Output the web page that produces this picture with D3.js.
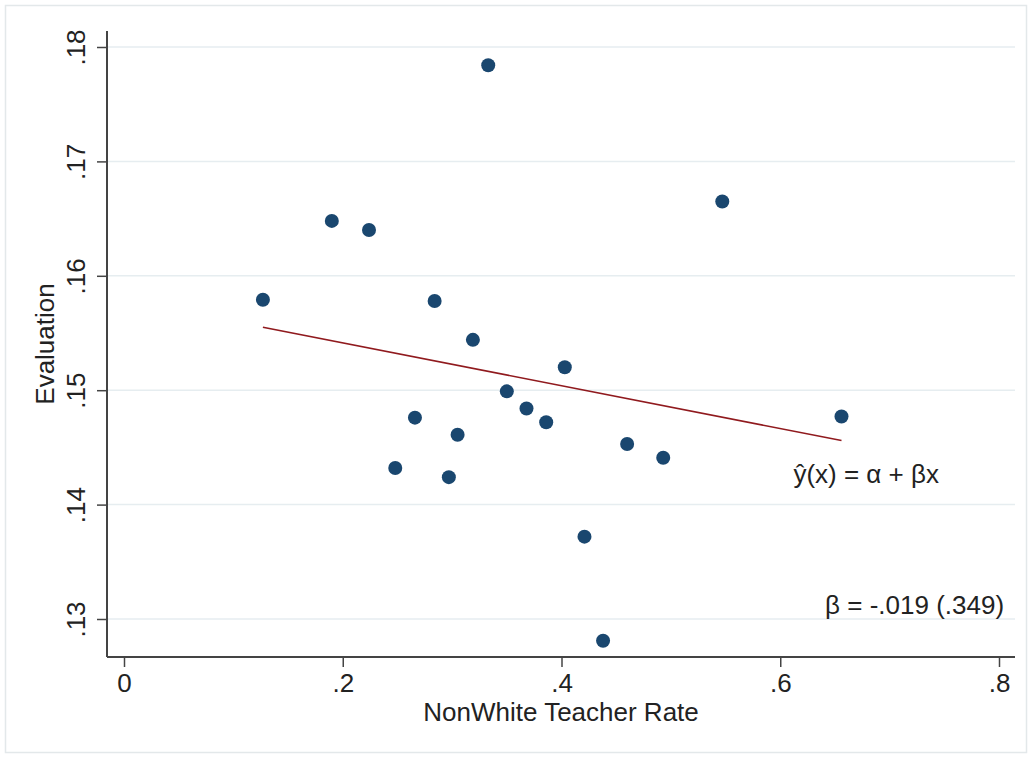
<!DOCTYPE html>
<html>
<head>
<meta charset="utf-8">
<script src="https://cdn.jsdelivr.net/npm/d3@7"></script>
<style>
  html, body { margin: 0; padding: 0; background: #fff; }
  svg text { font-family: "Liberation Sans", Arial, Helvetica, sans-serif; fill: #222; }
</style>
</head>
<body>
<svg id="chart" width="1032" height="758"></svg>
<script>
// Data
const teacherRate = [0.127, 0.190, 0.224, 0.333, 0.547, 0.284, 0.319, 0.403, 0.350, 0.368,
                     0.386, 0.266, 0.305, 0.248, 0.297, 0.460, 0.493, 0.656, 0.421, 0.438];
const evaluation  = [0.1579, 0.1648, 0.1640, 0.1784, 0.1665, 0.1578, 0.1544, 0.1520, 0.1499, 0.1484,
                     0.1472, 0.1476, 0.1461, 0.1432, 0.1424, 0.1453, 0.1441, 0.1477, 0.1372, 0.1281];
const fitX = [0.127, 0.656];
const fitY = [0.1555, 0.1456];
const xTicks = [0, 0.2, 0.4, 0.6, 0.8];
const xTickLabels = ['0', '.2', '.4', '.6', '.8'];
const yTicks = [0.13, 0.14, 0.15, 0.16, 0.17, 0.18];
const yTickLabels = ['.13', '.14', '.15', '.16', '.17', '.18'];

const svg = d3.select('#chart');

// Outer graph region
svg.append('rect')
    .attr('x', 5.5).attr('y', 5.5)
    .attr('width', 1021).attr('height', 747)
    .attr('fill', '#fff')
    .attr('stroke', '#e3e8ea')
    .attr('stroke-width', 1.5);

// Plot region edges
const plot = { left: 107, right: 1015, top: 31, bottom: 657 };

// Scales
const xScale = d3.scaleLinear().domain([0, 0.8]).range([124, 999]);
const yScale = d3.scaleLinear().domain([0.13, 0.18]).range([619, 47]);

// Grid
svg.append('g')
    .selectAll('line')
    .data(yTicks)
    .join('line')
    .attr('x1', plot.left)
    .attr('x2', plot.right)
    .attr('y1', d => yScale(d))
    .attr('y2', d => yScale(d))
    .attr('stroke', '#e6edf0')
    .attr('stroke-width', 1.5);

// Axes
const yAxis = d3.axisLeft(yScale)
    .tickValues(yTicks)
    .tickFormat((d, i) => yTickLabels[i])
    .tickSize(10)
    .tickSizeOuter(0);
const xAxis = d3.axisBottom(xScale)
    .tickValues(xTicks)
    .tickFormat((d, i) => xTickLabels[i])
    .tickSize(10)
    .tickSizeOuter(0);

const yAxisG = svg.append('g')
    .attr('transform', `translate(${plot.left},0)`)
    .call(yAxis);
yAxisG.select('.domain').remove();
yAxisG.append('line')
    .attr('x1', 0).attr('x2', 0)
    .attr('y1', plot.top).attr('y2', plot.bottom)
    .attr('stroke', '#444').attr('stroke-width', 2);
yAxisG.selectAll('.tick line').attr('stroke', '#444').attr('stroke-width', 1.5);
yAxisG.selectAll('.tick text')
    .attr('x', null).attr('dy', null)
    .attr('transform', 'translate(-22,0) rotate(-90)')
    .attr('text-anchor', 'middle')
    .attr('font-size', 26)
    .attr('fill', '#222');

const xAxisG = svg.append('g')
    .attr('transform', `translate(0,${plot.bottom})`)
    .call(xAxis);
xAxisG.select('.domain').remove();
xAxisG.append('line')
    .attr('x1', plot.left).attr('x2', plot.right)
    .attr('y1', 0).attr('y2', 0)
    .attr('stroke', '#444').attr('stroke-width', 2);
xAxisG.selectAll('.tick line').attr('stroke', '#444').attr('stroke-width', 1.5);
xAxisG.selectAll('.tick text')
    .attr('y', 35).attr('dy', null)
    .attr('font-size', 26)
    .attr('fill', '#222');

// Axis titles
svg.append('text')
    .attr('x', (plot.left + plot.right) / 2 + 0)
    .attr('y', 721)
    .attr('text-anchor', 'middle')
    .attr('font-size', 26)
    .text('NonWhite Teacher Rate');

svg.append('text')
    .attr('transform', `translate(54,${(plot.top + plot.bottom) / 2}) rotate(-90)`)
    .attr('text-anchor', 'middle')
    .attr('font-size', 26)
    .text('Evaluation');

// Fitted line
svg.append('line')
    .attr('x1', xScale(fitX[0])).attr('y1', yScale(fitY[0]))
    .attr('x2', xScale(fitX[1])).attr('y2', yScale(fitY[1]))
    .attr('stroke', '#901a1e')
    .attr('stroke-width', 1.6);

// Points
svg.append('g')
    .selectAll('circle')
    .data(teacherRate.map((x, i) => ({ x, y: evaluation[i] })))
    .join('circle')
    .attr('cx', d => xScale(d.x))
    .attr('cy', d => yScale(d.y))
    .attr('r', 7)
    .attr('fill', '#1a476f');

// Annotations
svg.append('text')
    .attr('x', xScale(0.612))
    .attr('y', yScale(0.1419))
    .attr('font-size', 26)
    .text('ŷ(x) = α + βx');

svg.append('text')
    .attr('x', xScale(0.641))
    .attr('y', yScale(0.1304))
    .attr('font-size', 26)
    .text('β = -.019 (.349)');
</script>
</body>
</html>
